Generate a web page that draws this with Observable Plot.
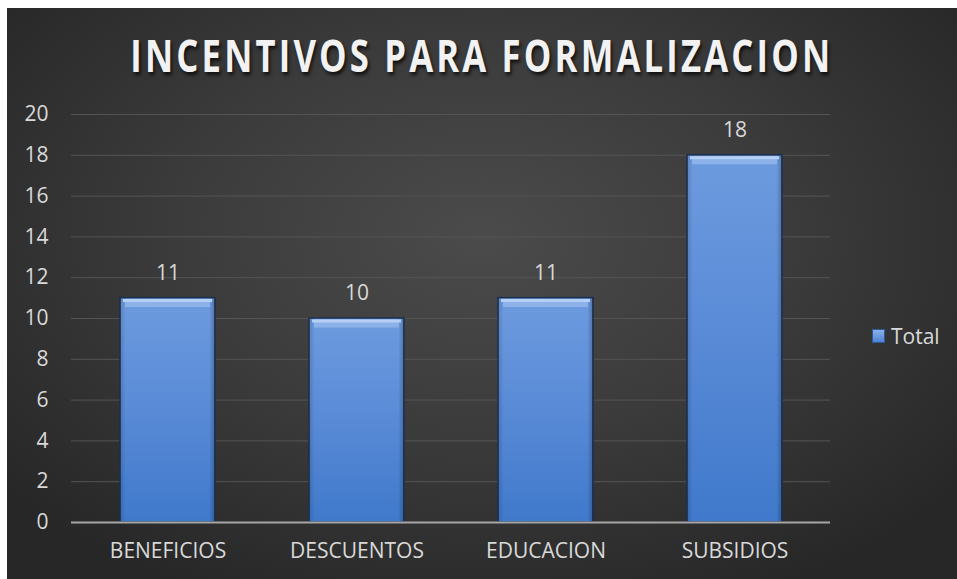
<!DOCTYPE html>
<html><head><meta charset="utf-8">
<script src="https://cdn.jsdelivr.net/npm/d3@7"></script>
<script src="https://cdn.jsdelivr.net/npm/@observablehq/plot@0.6"></script>
<style>
html,body{margin:0;padding:0;background:#fff;width:957px;height:579px;overflow:hidden}
#frame{position:absolute;left:7px;top:8px;width:950px;height:571px;overflow:hidden;
  background:radial-gradient(ellipse 65% 70% at 50% 40%, #4b4b4b 0%, #3b3b3b 50%, #272727 100%);
  font-family:"Open Sans",sans-serif}
#title{position:absolute;left:0;top:0;width:950px;height:85px;display:flex;align-items:center;justify-content:center}
#title span{display:inline-block;font-weight:700;font-size:44px;letter-spacing:4px;color:#f2f2f2;
  text-shadow:2px 3px 4px rgba(0,0,0,0.7);white-space:nowrap;transform-origin:center;margin-top:8px}
#chart{position:absolute;left:0;top:85px}
#legend{position:absolute;left:865px;top:314px;display:flex;align-items:center;color:#d9d9d9;font-size:21px}
#legend .sw{width:13px;height:14px;margin-right:6px;background:linear-gradient(#8fb4ec,#4a7fcf);box-shadow:inset 0 0 0 1px #2c5aa0}
</style></head>
<body>
<div id="frame">
  <div id="title"><span id="ttext"></span></div>
  <div id="chart"></div>
  <div id="legend"><div class="sw"></div><span id="ltext"></span></div>
</div>
<script>
const chartTitle = "INCENTIVOS PARA FORMALIZACION";
const categories = ["BENEFICIOS", "DESCUENTOS", "EDUCACION", "SUBSIDIOS"];
const totals = [11, 10, 11, 18];
const yTicks = [0, 2, 4, 6, 8, 10, 12, 14, 16, 18, 20];
const seriesName = "Total";

const data = categories.map((c, i) => ({cat: c, v: totals[i]}));

document.getElementById("ttext").textContent = chartTitle;
document.getElementById("ltext").textContent = seriesName;
const t = document.getElementById("ttext");
const w = t.getBoundingClientRect().width;
t.style.transform = `scaleX(${703 / w})`;

const plot = Plot.plot({
  width: 950,
  height: 486,
  marginTop: 21,
  marginBottom: 57,
  marginLeft: 64,
  marginRight: 127,
  style: {background: "transparent", color: "#d9d9d9", fontSize: "21px", fontFamily: "'Open Sans', sans-serif"},
  x: {domain: categories, paddingInner: 0.5, paddingOuter: 0.25, label: null, tickSize: 0, tickPadding: 21},
  y: {domain: [0, 20], ticks: yTicks, label: null, tickSize: 0, tickPadding: 23, tickFormat: d => String(d)},
  marks: [
    Plot.gridY(yTicks, {stroke: "#545454", strokeOpacity: 1, strokeWidth: 1}),
    Plot.barY(data, {x: "cat", y: "v", fill: "url(#barGrad)", stroke: "#1c2f4d", strokeWidth: 1.5}),
    Plot.barY(data, {x: "cat", y: "v", fill: "url(#barSide)"}),
    Plot.tickY(data, {x: "cat", y: "v", stroke: "#8db1e9", strokeWidth: 8, dy: 5, inset: 5}),
    Plot.tickY(data, {x: "cat", y: "v", stroke: "#b6d0f5", strokeWidth: 3, dy: 2.5, inset: 3}),
    Plot.ruleY([0], {stroke: "#a6a6a6", strokeWidth: 2}),
    Plot.text(data, {x: "cat", y: "v", text: d => String(d.v), dy: -25, fill: "#d9d9d9", fontSize: 21})
  ]
});
document.getElementById("chart").appendChild(plot);

const defs = d3.select(plot).insert("defs", ":first-child");
const g1 = defs.append("linearGradient").attr("id", "barGrad").attr("x1", 0).attr("y1", 0).attr("x2", 0).attr("y2", 1);
g1.append("stop").attr("offset", "0%").attr("stop-color", "#6d9bdf");
g1.append("stop").attr("offset", "45%").attr("stop-color", "#5b8cd7");
g1.append("stop").attr("offset", "100%").attr("stop-color", "#4079cb");
const g2 = defs.append("linearGradient").attr("id", "barSide").attr("x1", 0).attr("y1", 0).attr("x2", 1).attr("y2", 0);
g2.append("stop").attr("offset", "0%").attr("stop-color", "#000").attr("stop-opacity", 0.15);
g2.append("stop").attr("offset", "6%").attr("stop-color", "#000").attr("stop-opacity", 0);
g2.append("stop").attr("offset", "94%").attr("stop-color", "#000").attr("stop-opacity", 0);
g2.append("stop").attr("offset", "100%").attr("stop-color", "#000").attr("stop-opacity", 0.25);
</script>
</body></html>
